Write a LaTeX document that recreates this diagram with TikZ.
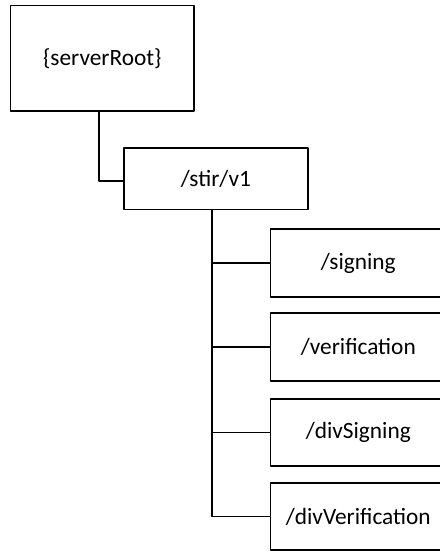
\documentclass[tikz,border=0pt]{standalone}
\usepackage{fontspec}
\setmainfont{Carlito}
\usetikzlibrary{positioning}

\begin{document}
\begin{tikzpicture}[line cap=round,line join=round,x=0.75pt,y=-0.75pt,
    box/.style={draw,line width=1.2pt,inner sep=0pt,font=\fontsize{17.5}{20}\selectfont},
    leaf/.style={box,minimum width=131.6pt,minimum height=50.6pt}]
      \clip (0,0) rectangle (440,551);

      % Draw the boxes
      \node[box,minimum width=137.5pt,minimum height=79pt] (root) at (102.3,58.3) {\{serverRoot\}};
      \node[box,minimum width=137.8pt,minimum height=46pt] (stir) at (215.9,178.7) {/stir/v1};
      \node[leaf] (signing) at (358.3,263) {/signing};
      \node[leaf] (verification) at (358.3,347) {/verification};
      \node[leaf] (divsigning) at (358.3,432.5) {/divSigning};
      \node[leaf] (divverification) at (358.3,516.5) {/divVerification};

      % Add connectors
      \draw[line width=1.2pt] ([xshift=-2.7pt]root.south) |- ([yshift=-1.7pt]stir.west);
      \coordinate (trunk) at ([xshift=-2.9pt]stir.south);
      \draw[line width=1.2pt] (trunk) |- (divverification.west);
      \draw[line width=1.2pt] (trunk |- signing.west) -- (signing.west);
      \draw[line width=1.2pt] (trunk |- verification.west) -- (verification.west);
      \draw[line width=1.2pt] (trunk |- divsigning.west) -- (divsigning.west);
\end{tikzpicture}
\end{document}
